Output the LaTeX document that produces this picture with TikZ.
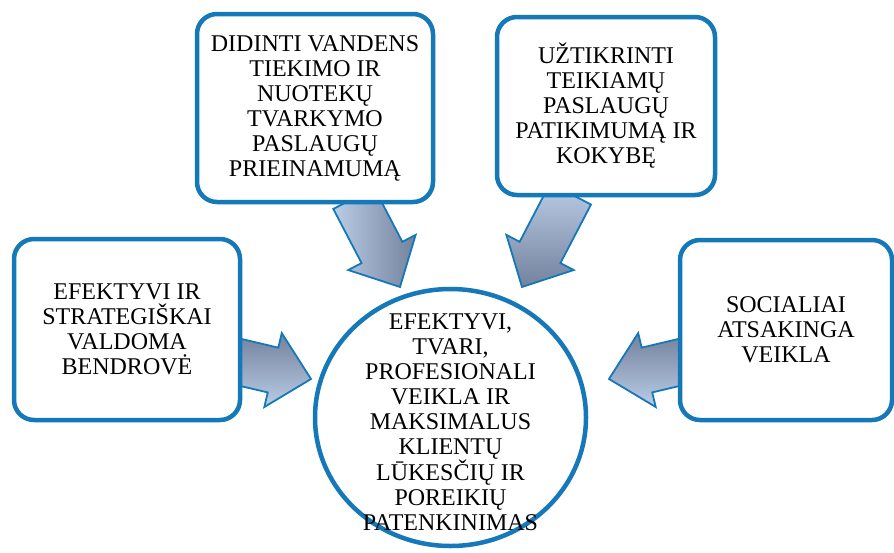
\documentclass[tikz,border=0pt]{standalone}
\usepackage{fontspec}
\setmainfont{Liberation Serif}
\usetikzlibrary{calc,shapes.geometric}
\definecolor{edge}{RGB}{20,120,185}
\definecolor{lite}{RGB}{186,204,230}
\definecolor{dark}{RGB}{116,130,156}

\begin{document}
\begin{tikzpicture}[x=1pt,y=-1pt,
    every node/.style={align=center,font=\fontsize{24}{25}\selectfont},
    box/.style={draw=edge,line width=4.5pt,rounded corners=20pt,fill=white,inner sep=0pt},
    fat/.style={draw=edge,line width=1.8pt,to path={
        ($(\tikztostart)!23pt!90:(\tikztotarget)$)
        -- ($($(\tikztotarget)!39pt!(\tikztostart)$)!23pt!90:(\tikztotarget)$)
        -- ($($(\tikztotarget)!39pt!(\tikztostart)$)!38pt!90:(\tikztotarget)$)
        -- (\tikztotarget)
        -- ($($(\tikztotarget)!39pt!(\tikztostart)$)!38pt!-90:(\tikztotarget)$)
        -- ($($(\tikztotarget)!39pt!(\tikztostart)$)!23pt!-90:(\tikztotarget)$)
        -- ($(\tikztostart)!23pt!-90:(\tikztotarget)$) -- cycle}}]
  \useasboundingbox (0,0) rectangle (894,552);
  % block arrows, drawn first so the boxes hide their tails
  \coordinate (a1) at (353.7,198.3); \coordinate (b1) at (400,287);
  \coordinate (a2) at (570.6,193.9); \coordinate (b2) at (522,287);
  \coordinate (a3) at (233,360.6);   \coordinate (b3) at (311,379);
  \coordinate (a4) at (686.8,360.6); \coordinate (b4) at (609,379);
  \path[fat,left color=lite,right color=dark] (a1) to (b1);
  \path[fat,top color=lite,bottom color=dark] (a2) to (b2);
  \path[fat,top color=dark,bottom color=lite] (a3) to (b3);
  \path[fat,top color=dark,bottom color=lite] (a4) to (b4);
  % boxes
  \node[box,minimum width=236pt,minimum height=188pt] (A) at (315,108)
    {DIDINTI VANDENS\\TIEKIMO IR\\NUOTEKŲ\\TVARKYMO\\PASLAUGŲ\\PRIEINAMUMĄ};
  \node[box,minimum width=218pt,minimum height=178pt] (B) at (606,106)
    {UŽTIKRINTI\\TEIKIAMŲ\\PASLAUGŲ\\PATIKIMUMĄ IR\\KOKYBĘ};
  \node[box,minimum width=226pt,minimum height=181pt] (C) at (127,329.5)
    {EFEKTYVI IR\\STRATEGIŠKAI\\VALDOMA\\BENDROVĖ};
  \node[box,minimum width=212pt,minimum height=180pt] (D) at (786,330)
    {SOCIALIAI\\ATSAKINGA\\VEIKLA};
  \node[ellipse,draw=edge,line width=4.5pt,fill=white,inner sep=0pt,
    minimum width=271pt,minimum height=257pt] (E) at (450.5,417.5) {};
  \node (F) at ([yshift=-5pt]E.center) {EFEKTYVI,\\TVARI,\\PROFESIONALI\\VEIKLA IR\\MAKSIMALUS\\KLIENTŲ\\LŪKESČIŲ IR\\POREIKIŲ\\PATENKINIMAS};
\end{tikzpicture}
\end{document}
